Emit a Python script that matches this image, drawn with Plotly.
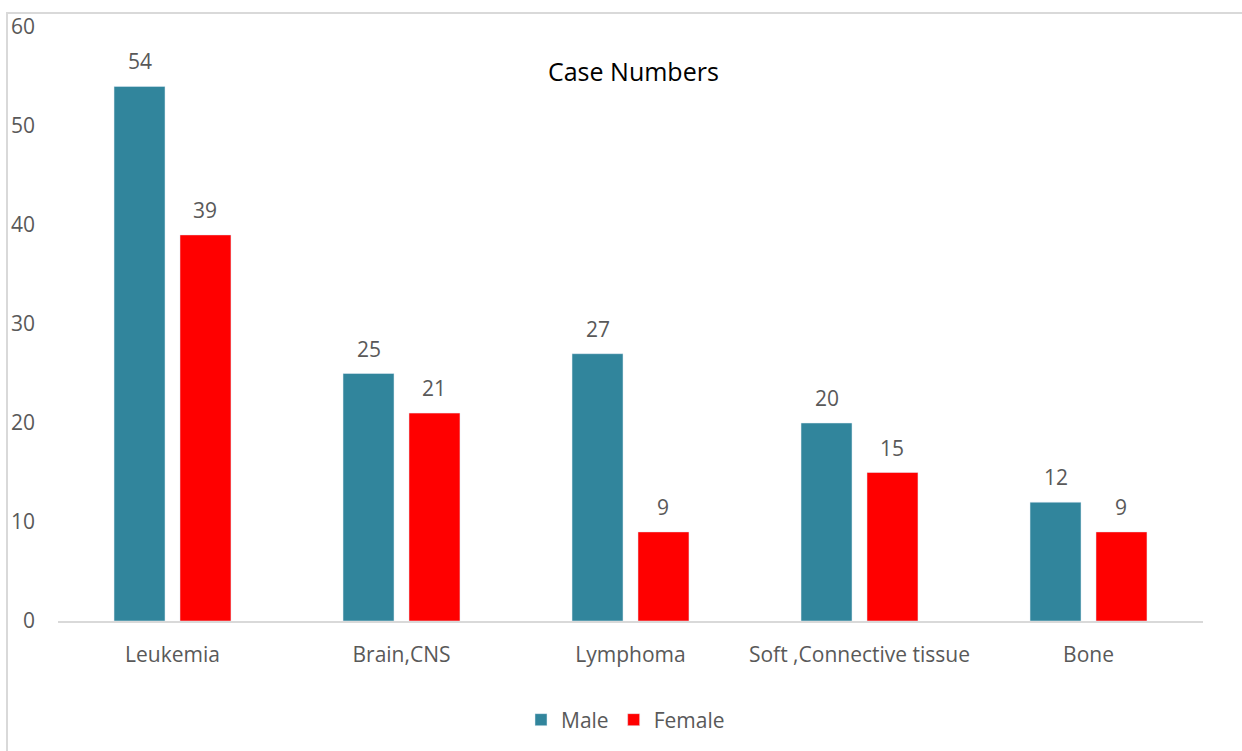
import plotly.graph_objects as go

categories = ["Leukemia", "Brain,CNS", "Lymphoma", "Soft ,Connective tissue", "Bone"]
male = [54, 25, 27, 20, 12]
female = [39, 21, 9, 15, 9]
y_ticks = [0, 10, 20, 30, 40, 50, 60]

FONT = "Open Sans"
GRAY = "#595959"
FS = 21

fig = go.Figure()
fig.add_trace(go.Bar(name="Male", x=categories, y=male, marker_color="#31859C"))
fig.add_trace(go.Bar(name="Female", x=categories, y=female, marker_color="#FF0000"))

W, H = 1242, 751
L, R, T, B = 58, 39, 27, 129
pw, ph = W - L - R, H - T - B

# data labels above each bar (bar centres are offset half a slot from the category centre)
slot_px = pw / len(categories) * (1 - 0.424) / 2
annotations = []
for vals, sign in ((male, -1), (female, 1)):
    for c, v in zip(categories, vals):
        annotations.append(dict(x=c, y=v, xref="x", yref="y", text=str(v), showarrow=False,
                                xshift=sign * slot_px / 2, yshift=25, yanchor="middle",
                                font=dict(family=FONT, size=FS, color=GRAY)))

fig.update_layout(
    width=W, height=H,
    margin=dict(l=L, r=R, t=T, b=B),
    paper_bgcolor="white", plot_bgcolor="white",
    font=dict(family=FONT, color=GRAY, size=FS),
    title=dict(text="Case Numbers", x=0.51, xanchor="center", y=1 - 72 / H, yanchor="middle",
               font=dict(family=FONT, size=25, color="#000000")),
    barmode="group", bargap=0.424, bargroupgap=0.227,
    showlegend=True,
    legend=dict(orientation="h", x=0.5 - 5 / pw, xanchor="center", y=(622 - 720) / ph, yanchor="middle",
                font=dict(size=FS, color=GRAY, family=FONT), itemwidth=30, traceorder="normal"),
    xaxis=dict(showgrid=False, showline=True, linecolor="#d9d9d9", linewidth=2,
               ticks="", tickfont=dict(size=FS, color=GRAY), range=[-0.5, 4.5],
               ticklabelstandoff=14),
    yaxis=dict(range=[0, 60], tickvals=y_ticks, showgrid=False, zeroline=False,
               showline=False, ticks="", tickfont=dict(size=FS, color=GRAY), ticklabelstandoff=22),
    annotations=annotations,
    shapes=[dict(type="rect", xref="paper", yref="paper",
                 x0=(7 - L) / pw, x1=(W + 10 - L) / pw,
                 y0=(622 - 13) / ph, y1=(622 - H - 10) / ph,
                 line=dict(color="#d9d9d9", width=2), fillcolor="rgba(0,0,0,0)", layer="below")],
)

fig.write_html("out.html")
